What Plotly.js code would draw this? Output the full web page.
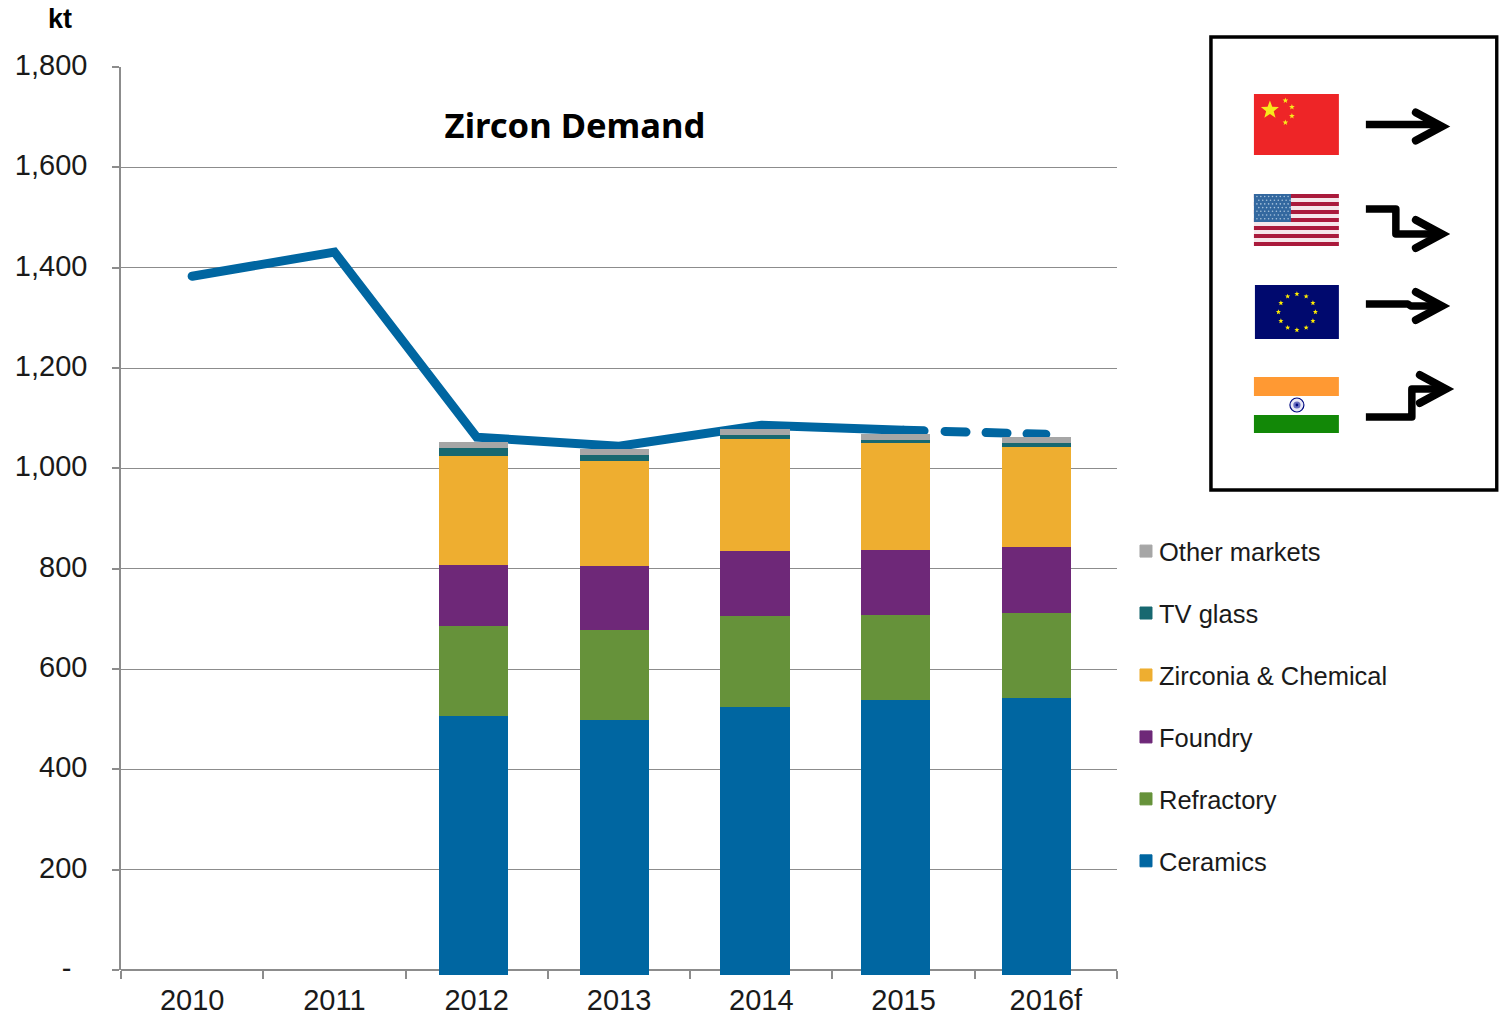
<!DOCTYPE html>
<html>
<head>
<meta charset="utf-8">
<script src="https://cdn.plot.ly/plotly-3.0.1.min.js"></script>
<style>html,body{margin:0;padding:0;background:#fff}</style>
</head>
<body>
<div id="chart" style="width:1499px;height:1016px"></div>
<script>
const categories = ['2010','2011','2012','2013','2014','2015','2016f'];
const barYears = ['2012','2013','2014','2015','2016f'];
const ceramics  = [518,510,536,550,554];
const refractory= [179,179,181,169,169];
const foundry   = [122,128,130,130,132];
const zirconia  = [217,209,223,213,199];
const tvGlass   = [16,11,8,6,8];
const other     = [10,10,10,10,10];
const solidYears = ['2010','2011','2012','2013','2014','2015'];
const solidDemand = [1383,1431,1062,1044,1086,1076];
const dashYears = ['2015','2016f'];
const dashDemand = [1076,1068];
const yTickVals = [0,200,400,600,800,1000,1200,1400,1600,1800];
const yTickText = ['-\u00a0\u00a0','200','400','600','800','1,000','1,200','1,400','1,600','1,800'];

const W=1499,H=1016,L=120.5,R=1117,T=67,B=975,AXIS=970;
const px=x=>(x-L)/(R-L), py=y=>1-(y-T)/(B-T);

function star(cx,cy,r,fill){
  let p='';
  for(let i=0;i<10;i++){
    const a=-Math.PI/2+i*Math.PI/5, q=i%2?r*0.42:r;
    p+=(i?'L':'M')+(cx+q*Math.cos(a)).toFixed(2)+' '+(cy+q*Math.sin(a)).toFixed(2);
  }
  return `<path d="${p}Z" fill="${fill}"/>`;
}
function panel(){
  let s=`<svg xmlns="http://www.w3.org/2000/svg" width="294" height="466" viewBox="1205 30 294 466">`;
  s+=`<rect x="1211" y="37" width="286" height="453" fill="#fff" stroke="#000" stroke-width="3.5"/>`;
  s+=`<rect x="1254" y="94" width="85" height="61" fill="#ee2527"/>`;
  s+=star(1270,110,9.5,'#f7e91c')+star(1285.5,100.5,3,'#f7e91c')+star(1292,107,3,'#f7e91c')+star(1292,116,3,'#f7e91c')+star(1285.5,122.5,3,'#f7e91c');
  const sh=52/13;
  for(let i=0;i<13;i++) s+=`<rect x="1254" y="${194+i*sh}" width="85" height="${sh}" fill="${i%2?'#f5e6ea':'#aa1a3c'}"/>`;
  s+=`<rect x="1254" y="194" width="37" height="28" fill="#33689f"/>`;
  for(let r=0;r<7;r++)for(let c=0;c<9;c++) s+=`<circle cx="${1257+c*3.9+(r%2?1.9:0)}" cy="${196.5+r*3.7}" r="0.8" fill="#a9c4dd"/>`;
  s+=`<rect x="1255" y="285" width="84" height="54" fill="#00096e"/>`;
  for(let i=0;i<12;i++){const a=i*Math.PI/6; s+=star(1297+18.5*Math.sin(a),312-18*Math.cos(a),2.7,'#ffec00');}
  s+=`<rect x="1254" y="377" width="85" height="19" fill="#ff9933"/><rect x="1254" y="415" width="85" height="18" fill="#128807"/>`;
  s+=`<circle cx="1297" cy="405" r="7" fill="#e8e8f6" stroke="#000a80" stroke-width="1.2"/><circle cx="1297" cy="405" r="3.6" fill="#6a6fc0"/><circle cx="1297" cy="405" r="1.4" fill="#000a80"/>`;
  const a=`fill="none" stroke="#000" stroke-width="7.5" stroke-linejoin="round"`;
  const head=(x,y,d)=>`<path d="M${x-26} ${y-d}L${x} ${y}L${x-26} ${y+d}" fill="none" stroke="#000" stroke-width="8" stroke-linecap="round" stroke-linejoin="miter"/>`;
  s+=`<path d="M1366 124.5H1436" ${a}/>`+head(1442,126.5,14);
  s+=`<path d="M1366 209H1396V234H1436" ${a}/>`+head(1442,234,14);
  s+=`<path d="M1366 304H1408L1411 306H1436" ${a}/>`+head(1442,306,14);
  s+=`<path d="M1366 417H1412V389H1440" ${a}/>`+head(1446,389,14);
  s+='</svg>';
  return 'data:image/svg+xml;charset=utf-8,'+encodeURIComponent(s);
}

function barTrace(name,values,color,rank){
  return {type:'bar',name,x:barYears,y:values,xaxis:'x2',yaxis:'y2',width:0.485,legendgroup:name,legendrank:rank,
    marker:{color,line:{color,width:1}}};
}
const data=[
  {type:'scatter',mode:'lines',x:solidYears,y:solidDemand,showlegend:false,hoverinfo:'y',
    line:{color:'#0066a1',width:9}},
  {type:'scatter',mode:'lines',x:dashYears,y:dashDemand,showlegend:false,hoverinfo:'y',
    line:{color:'#0066a1',width:9,dash:'20.5px,21px,21px,20px,21px,20px,21px'}},
  barTrace('Ceramics',ceramics,'#0066a1',6),
  barTrace('Refractory',refractory,'#66923a',5),
  barTrace('Foundry',foundry,'#6e2878',4),
  barTrace('Zirconia & Chemical',zirconia,'#eeae30',3),
  barTrace('TV glass',tvGlass,'#176870',2),
  barTrace('Other markets',other,'#a6a6a6',1)
];
const axisColor='#8c8c8c';
const tickFont={family:'"Liberation Sans",Arial,sans-serif',size:29,color:'#1a1a1a'};
const gap=(B-AXIS)/(B-T);
const layout={
  width:W,height:H,autosize:false,
  margin:{l:L,r:W-R,t:T,b:H-B,pad:0},
  paper_bgcolor:'#fff',plot_bgcolor:'rgba(0,0,0,0)',
  barmode:'stack',
  font:{family:'"Liberation Sans",Arial,sans-serif'},
  title:{text:'<b>Zircon Demand</b>',x:575/W,xref:'container',xanchor:'center',y:1-126/H,yref:'container',yanchor:'middle',
    font:{family:'"Noto Sans",sans-serif',size:34.6,color:'#000'}},
  xaxis:{type:'category',categoryorder:'array',categoryarray:categories,range:[-0.5,6.5],tickson:'boundaries',
    anchor:'free',position:gap,
    ticks:'outside',ticklen:8,tickwidth:1.5,tickcolor:axisColor,showline:true,linecolor:axisColor,linewidth:1.5,
    showgrid:false,tickfont:tickFont,ticklabelstandoff:4,zeroline:false,fixedrange:true},
  yaxis:{domain:[gap,1],range:[0,1800],tickmode:'array',tickvals:yTickVals,ticktext:yTickText,ticks:'outside',ticklen:7,tickwidth:1.5,
    tickcolor:axisColor,showline:true,linecolor:axisColor,linewidth:1.5,showgrid:true,gridcolor:axisColor,gridwidth:1.3,
    zeroline:false,tickfont:tickFont,ticklabelstandoff:19,ticklabelshift:-2,fixedrange:true},
  xaxis2:{type:'category',categoryorder:'array',categoryarray:categories,anchor:'y2',domain:[0,1],range:[-0.507,6.573],visible:false,fixedrange:true},
  yaxis2:{anchor:'x2',domain:[0,1],range:[0,1810],visible:false,fixedrange:true},
  legend:{x:px(1119),xanchor:'left',y:py(528),yanchor:'top',traceorder:'grouped',tracegroupgap:25.8,
    font:{family:'"Liberation Sans",Arial,sans-serif',size:25.5,color:'#1a1a1a'},bgcolor:'rgba(0,0,0,0)',borderwidth:0},
  annotations:[{text:'<b>kt</b>',xref:'paper',yref:'paper',x:px(59),y:py(19),xanchor:'center',yanchor:'middle',showarrow:false,
    font:{family:'"Liberation Sans",Arial,sans-serif',size:27,color:'#000'}}],
  images:[{source:panel(),xref:'paper',yref:'paper',x:px(1205),y:py(30),sizex:294/(R-L),sizey:466/(B-T),xanchor:'left',yanchor:'top',sizing:'stretch',layer:'above'}]
};
Plotly.newPlot('chart',data,layout,{displayModeBar:false,responsive:false}).then(()=>{
  document.querySelectorAll('#chart .legend .legendsymbols').forEach(n=>n.setAttribute('transform','translate(7,0)'));
  document.querySelectorAll('#chart .scatterlayer .js-line').forEach(n=>{n.style.strokeLinecap='round';});
});
</script>
</body>
</html>
